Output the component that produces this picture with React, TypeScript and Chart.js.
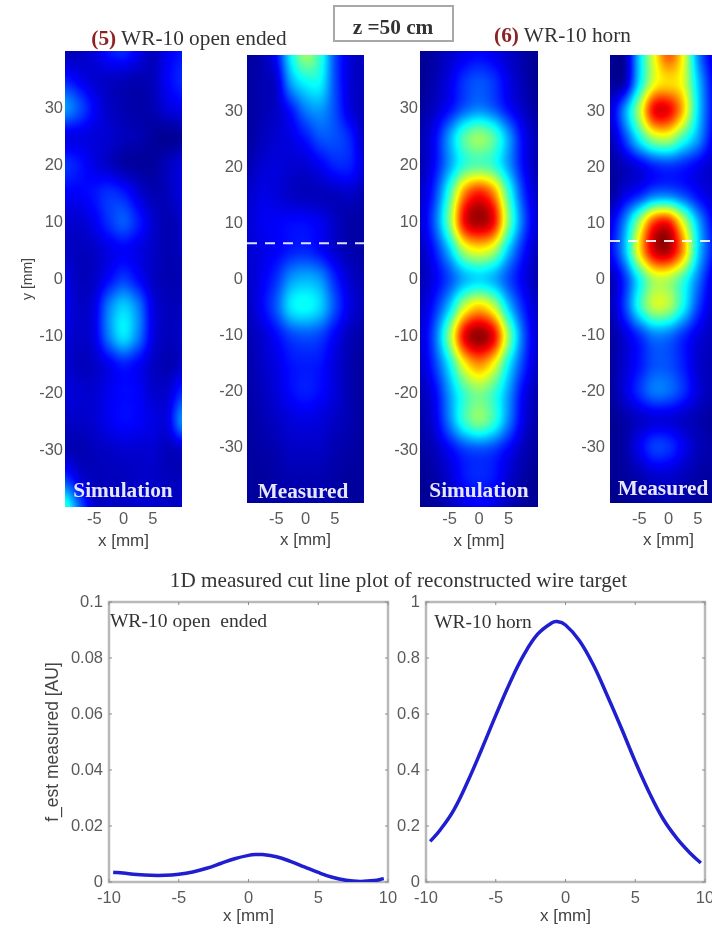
import React, { useEffect, useRef } from "react";
import { Chart, registerables } from "chart.js";
Chart.register(...registerables);

const gridX = [-10, -7.5, -5, -2.5, 0, 2.5, 5, 7.5, 10];
const gridY = [40, 35, 30, 25, 20, 15, 10, 5, 0, -5, -10, -15, -20, -25, -30, -35, -40];

const simOpen = [
  [.05,.06,.09,.14,.16,.11,.06,.11,.14],
  [.15,.11,.08,.07,.06,.05,.06,.12,.16],
  [.27,.20,.12,.07,.05,.04,.05,.09,.11],
  [.10,.10,.09,.08,.06,.05,.03,.02,.03],
  [.17,.14,.10,.07,.04,.03,.03,.06,.09],
  [.12,.12,.14,.17,.15,.09,.05,.06,.09],
  [.08,.08,.11,.17,.21,.15,.08,.05,.07],
  [.07,.06,.07,.10,.12,.10,.07,.05,.06],
  [.10,.06,.07,.13,.18,.13,.07,.05,.05],
  [.11,.07,.10,.25,.33,.25,.10,.06,.06],
  [.09,.07,.10,.25,.35,.25,.10,.06,.07],
  [.08,.06,.07,.11,.15,.12,.07,.05,.07],
  [.09,.08,.08,.11,.13,.12,.08,.08,.16],
  [.07,.07,.08,.11,.13,.12,.10,.10,.26],
  [.06,.05,.06,.07,.08,.08,.08,.06,.07],
  [.18,.09,.06,.06,.06,.07,.07,.06,.06],
  [.42,.22,.08,.07,.07,.08,.08,.07,.07],
];
const measOpen = [
  [.03,.05,.13,.37,.52,.42,.20,.09,.06],
  [.03,.05,.08,.28,.37,.37,.20,.09,.06],
  [.03,.05,.07,.14,.24,.27,.20,.10,.06],
  [.03,.06,.08,.10,.14,.20,.20,.16,.07],
  [.05,.08,.09,.08,.08,.11,.15,.15,.09],
  [.07,.10,.09,.07,.06,.06,.06,.07,.05],
  [.08,.11,.12,.13,.13,.11,.07,.04,.04],
  [.08,.10,.12,.15,.16,.13,.08,.05,.04],
  [.07,.11,.17,.27,.30,.27,.16,.08,.05],
  [.06,.12,.21,.35,.38,.33,.20,.10,.06],
  [.05,.08,.13,.19,.21,.19,.12,.06,.04],
  [.04,.07,.10,.14,.15,.14,.09,.05,.03],
  [.04,.06,.09,.13,.15,.13,.09,.05,.03],
  [.03,.05,.07,.09,.10,.09,.07,.05,.03],
  [.03,.04,.05,.07,.07,.07,.05,.04,.03],
  [.03,.03,.04,.05,.05,.05,.04,.03,.03],
  [.03,.03,.04,.04,.04,.04,.04,.03,.03],
];
const simHorn = [
  [.02,.04,.07,.10,.12,.10,.07,.04,.02],
  [.02,.05,.10,.17,.20,.17,.10,.05,.02],
  [.03,.07,.13,.21,.25,.21,.13,.07,.03],
  [.05,.12,.28,.45,.52,.45,.28,.12,.05],
  [.05,.13,.28,.42,.46,.42,.28,.13,.05],
  [.07,.18,.43,.74,.85,.74,.43,.18,.07],
  [.08,.22,.50,.87,.96,.87,.50,.22,.08],
  [.06,.15,.32,.55,.62,.55,.32,.15,.06],
  [.05,.11,.20,.30,.34,.30,.20,.11,.05],
  [.07,.16,.33,.58,.68,.58,.33,.16,.07],
  [.08,.22,.52,.88,.98,.88,.52,.22,.08],
  [.07,.18,.37,.62,.73,.62,.37,.18,.07],
  [.05,.12,.28,.43,.50,.43,.28,.12,.05],
  [.04,.10,.25,.42,.50,.42,.25,.10,.04],
  [.03,.06,.12,.18,.20,.18,.12,.06,.03],
  [.02,.04,.08,.14,.16,.14,.08,.04,.02],
  [.02,.03,.06,.10,.12,.10,.06,.03,.02],
];
const measHorn = [
  [.02,.04,.33,.60,.78,.62,.27,.10,.05],
  [.03,.06,.35,.60,.66,.60,.33,.13,.05],
  [.08,.27,.55,.87,.88,.68,.35,.14,.05],
  [.05,.18,.37,.53,.55,.42,.28,.12,.05],
  [.03,.06,.10,.15,.17,.15,.11,.07,.03],
  [.03,.10,.16,.24,.25,.20,.13,.08,.03],
  [.10,.26,.54,.82,.86,.60,.31,.13,.05],
  [.12,.30,.64,.91,.94,.72,.35,.15,.05],
  [.05,.17,.38,.55,.55,.43,.25,.10,.04],
  [.05,.18,.40,.56,.54,.38,.19,.08,.04],
  [.03,.09,.17,.25,.24,.17,.10,.06,.03],
  [.03,.08,.14,.20,.20,.15,.08,.05,.03],
  [.03,.09,.17,.24,.23,.17,.09,.05,.03],
  [.02,.04,.07,.09,.09,.07,.05,.03,.02],
  [.02,.04,.11,.18,.17,.11,.06,.04,.02],
  [.02,.03,.05,.08,.08,.06,.04,.03,.02],
  [.01,.02,.03,.04,.05,.04,.03,.02,.01],
];

const cutOpenX = [-9.7,-9,-8,-7,-6,-5,-4,-3,-2,-1,0,0.5,1,2,3,4,5,6,7,8,9,9.7];
const cutOpenY = [.0035,.0032,.0027,.0024,.0024,.0028,.0036,.0049,.0066,.0083,.0095,.0098,.0098,.009,.0074,.0054,.0034,.0017,.0006,.0002,.0005,.0012];
const cutHornX = [-9.7,-9,-8,-7,-6,-5,-4,-3,-2,-1,-0.6,0,1,2,3,4,5,6,7,8,9,9.7];
const cutHornY = [.145,.185,.258,.36,.475,.595,.71,.81,.885,.925,.93,.918,.862,.775,.665,.55,.43,.32,.225,.155,.1,.068];

const dashY1 = 6.4;
const dashY2 = 6.8;

const TICK_FONT = { family: "'Liberation Sans', Arial, sans-serif", size: 16.5 };
const TICK_COLOR = "#5a5a5a";

function jet(v: number): [number, number, number] {
  const c = Math.max(0, Math.min(1, v));
  const ramp = (d: number) => Math.max(0, Math.min(1, 1.5 - Math.abs(4 * c - d)));
  return [ramp(3) * 255, ramp(2) * 255, ramp(1) * 255];
}
function cr(a: number, b: number, c: number, d: number, t: number) {
  return 0.5 * (2 * b + (c - a) * t + (2 * a - 5 * b + 4 * c - d) * t * t + (3 * b - a - 3 * c + d) * t * t * t);
}
function sample(g: number[][], x: number, y: number) {
  const fx = Math.max(0, Math.min(gridX.length - 1.001, (x - gridX[0]) / (gridX[1] - gridX[0])));
  const fy = Math.max(0, Math.min(gridY.length - 1.001, (y - gridY[0]) / (gridY[1] - gridY[0])));
  const ix = Math.floor(fx), iy = Math.floor(fy);
  const tx = fx - ix, ty = fy - iy;
  const rowAt = (r: number) => {
    const row = g[Math.max(0, Math.min(g.length - 1, r))];
    const at = (i: number) => row[Math.max(0, Math.min(row.length - 1, i))];
    return cr(at(ix - 1), at(ix), at(ix + 1), at(ix + 2), tx);
  };
  return cr(rowAt(iy - 1), rowAt(iy), rowAt(iy + 1), rowAt(iy + 2), ty);
}

const heatmapPlugin = {
  id: "heatmap",
  beforeDatasetsDraw(chart: any) {
    const grid = chart.options.plugins.heatmap?.grid;
    if (!grid) return;
    const { left, top, right, bottom } = chart.chartArea;
    const x0 = Math.round(left), y0 = Math.round(top);
    const w = Math.round(right) - x0, h = Math.round(bottom) - y0;
    const img = chart.ctx.createImageData(w, h);
    for (let j = 0; j < h; j++) {
      const yv = chart.scales.y.getValueForPixel(y0 + j + 0.5);
      for (let i = 0; i < w; i++) {
        const xv = chart.scales.x.getValueForPixel(x0 + i + 0.5);
        const [r, g, b] = jet(sample(grid, xv, yv));
        const k = (j * w + i) * 4;
        img.data[k] = r; img.data[k + 1] = g; img.data[k + 2] = b; img.data[k + 3] = 255;
      }
    }
    chart.ctx.putImageData(img, x0, y0);
  },
};

const framePlugin = {
  id: "frame",
  beforeDatasetsDraw(chart: any) {
    if (!chart.options.plugins.frame?.on) return;
    const { ctx, chartArea: a, scales } = chart;
    ctx.save();
    ctx.strokeStyle = "#b9b9b9";
    ctx.lineWidth = 2.5;
    ctx.strokeRect(a.left, a.top, a.right - a.left, a.bottom - a.top);
    ctx.strokeStyle = "#8c8c8c";
    ctx.lineWidth = 1;
    ctx.beginPath();
    scales.x.ticks.forEach((t: any) => {
      const p = scales.x.getPixelForValue(t.value);
      ctx.moveTo(p, a.top); ctx.lineTo(p, a.top + 3);
      ctx.moveTo(p, a.bottom); ctx.lineTo(p, a.bottom - 3);
    });
    scales.y.ticks.forEach((t: any) => {
      const p = scales.y.getPixelForValue(t.value);
      ctx.moveTo(a.left, p); ctx.lineTo(a.left + 3, p);
      ctx.moveTo(a.right, p); ctx.lineTo(a.right - 3, p);
    });
    ctx.stroke();
    ctx.restore();
  },
};

type Rect = { l: number; t: number; r: number; b: number };
type Margins = { ml: number; mt: number; mr: number; mb: number };

function ChartBox({ rect, margins, config }: { rect: Rect; margins: Margins; config: any }) {
  const ref = useRef<HTMLCanvasElement>(null);
  useEffect(() => {
    const chart = new Chart(ref.current as HTMLCanvasElement, config);
    return () => chart.destroy();
  }, []);
  const { ml, mt, mr, mb } = margins;
  const w = rect.r - rect.l + ml + mr;
  const h = rect.b - rect.t + mt + mb;
  return (
    <canvas
      ref={ref}
      width={w}
      height={h}
      style={{ position: "absolute", left: rect.l - ml, top: rect.t - mt, width: w, height: h }}
    />
  );
}

function baseScales(margins: Margins, xOpt: any, yOpt: any) {
  return {
    x: {
      type: "linear",
      border: { display: false },
      grid: { display: false, drawTicks: false },
      afterFit: (s: any) => { s.height = margins.mb; },
      ...xOpt,
    },
    y: {
      type: "linear",
      border: { display: false },
      grid: { display: false, drawTicks: false },
      afterFit: (s: any) => { s.width = margins.ml; },
      ...yOpt,
    },
  };
}

const AXIS_FAMILY = "'Liberation Sans', Arial, sans-serif";

function heatConfig(grid: number[][], margins: Margins, xPad: number, yPad: number, dashY: number | null, showYTitle: boolean) {
  const cells: any[] = [];
  gridY.forEach((y, j) => gridX.forEach((x, i) => cells.push({ x, y, v: grid[j][i] })));
  const datasets: any[] = [
    { label: "cells", data: cells, pointRadius: 0, showLine: false },
  ];
  if (dashY !== null) {
    datasets.push({
      label: "cut",
      data: [{ x: -10, y: dashY }, { x: 10, y: dashY }],
      borderColor: "rgba(255,255,255,0.88)",
      borderWidth: 2,
      borderDash: [10, 8],
      pointRadius: 0,
      showLine: true,
    });
  }
  return {
    type: "scatter",
    data: { datasets },
    plugins: [heatmapPlugin],
    options: {
      responsive: false,
      animation: false,
      devicePixelRatio: 1,
      layout: { padding: { top: margins.mt, right: margins.mr, left: 0, bottom: 0 } },
      plugins: { legend: { display: false }, tooltip: { enabled: false }, heatmap: { grid } },
      scales: baseScales(
        margins,
        {
          min: -10, max: 10,
          ticks: {
            stepSize: 5, padding: xPad, maxRotation: 0, autoSkip: false, font: TICK_FONT, color: TICK_COLOR,
            callback: (v: number) => (Math.abs(v) === 10 ? "" : String(v)),
          },
          title: {
            display: true, text: "x [mm]", color: "#444", padding: { top: 0, bottom: 1 },
            font: { family: AXIS_FAMILY, size: 17 },
          },
        },
        {
          min: -40, max: 40,
          ticks: {
            stepSize: 10, padding: yPad, autoSkip: false, font: TICK_FONT, color: TICK_COLOR,
            callback: (v: number) => (Math.abs(v) === 40 ? "" : String(v)),
          },
          title: {
            display: showYTitle, text: "y [mm]", color: "#444", padding: { top: 0, bottom: 0 },
            font: { family: AXIS_FAMILY, size: 14 },
          },
        },
      ),
    },
  };
}

function lineConfig(xs: number[], ys: number[], yMax: number, yStep: number, margins: Margins, yTitle: string) {
  return {
    type: "line",
    data: {
      datasets: [{
        label: "cut",
        data: xs.map((x, i) => ({ x, y: ys[i] })),
        borderColor: "#1f1fd0",
        borderWidth: 3.5,
        pointRadius: 0,
        tension: 0.4,
      }],
    },
    plugins: [framePlugin],
    options: {
      responsive: false,
      animation: false,
      devicePixelRatio: 1,
      layout: { padding: { top: margins.mt, right: margins.mr, left: 0, bottom: 0 } },
      plugins: { legend: { display: false }, tooltip: { enabled: false }, frame: { on: true } },
      scales: baseScales(
        margins,
        {
          min: -10, max: 10,
          ticks: { stepSize: 5, padding: 7, maxRotation: 0, autoSkip: false, font: TICK_FONT, color: TICK_COLOR },
          title: {
            display: true, text: "x [mm]", color: "#444", padding: { top: 0, bottom: 1 },
            font: { family: AXIS_FAMILY, size: 17 },
          },
        },
        {
          min: 0, max: yMax,
          ticks: {
            stepSize: yStep, padding: 6, autoSkip: false, font: TICK_FONT, color: TICK_COLOR,
            callback: (v: number) => String(+v.toFixed(2)),
          },
          title: {
            display: !!yTitle, text: yTitle, color: "#444", padding: { top: 0, bottom: 0 },
            font: { family: AXIS_FAMILY, size: 17.5 },
          },
        },
      ),
    },
  };
}

const SERIF = "'Liberation Serif', 'Times New Roman', serif";

function Txt({ x, y, size, bold, color, spacing, children }: any) {
  return (
    <div style={{
      position: "absolute", left: x, top: y, transform: "translate(-50%,-50%)", whiteSpace: "pre",
      fontFamily: SERIF, fontSize: size, fontWeight: bold ? 700 : 400, color: color || "#333",
      letterSpacing: spacing || 0, lineHeight: 1,
    }}>{children}</div>
  );
}

const rectA: Rect = { l: 65, t: 51, r: 182, b: 507 };
const rectB: Rect = { l: 247, t: 55, r: 364, b: 503 };
const rectC: Rect = { l: 420, t: 51, r: 538, b: 507 };
const rectD: Rect = { l: 610, t: 55, r: 727, b: 503 };
const rectE: Rect = { l: 109, t: 602, r: 388, b: 882 };
const rectF: Rect = { l: 426, t: 602, r: 705, b: 882 };

const mA: Margins = { ml: 45, mt: 20, mr: 16, mb: 46 };
const mB: Margins = { ml: 40, mt: 20, mr: 16, mb: 49 };
const mE: Margins = { ml: 66, mt: 20, mr: 20, mb: 46 };
const mF: Margins = { ml: 36, mt: 20, mr: 20, mb: 46 };

const cfgA = heatConfig(simOpen, mA, 3, 2, null, true);
const cfgB = heatConfig(measOpen, mB, 7, 4, dashY1, false);
const cfgC = heatConfig(simHorn, mA, 3, 2, null, false);
const cfgD = heatConfig(measHorn, mB, 7, 5, dashY2, false);
const cfgE = lineConfig(cutOpenX, cutOpenY, 0.1, 0.02, mE, "f_est measured [AU]");
const cfgF = lineConfig(cutHornX, cutHornY, 1, 0.2, mF, "");

export default function App() {
  return (
    <div style={{ position: "fixed", left: 0, top: 0, width: 712, height: 928, overflow: "hidden", background: "#fff", filter: "blur(0.55px)" }}>
      <ChartBox rect={rectA} margins={mA} config={cfgA} />
      <ChartBox rect={rectB} margins={mB} config={cfgB} />
      <ChartBox rect={rectC} margins={mA} config={cfgC} />
      <ChartBox rect={rectD} margins={mB} config={cfgD} />
      <ChartBox rect={rectE} margins={mE} config={cfgE} />
      <ChartBox rect={rectF} margins={mF} config={cfgF} />

      <div style={{ position: "absolute", left: 333, top: 5, width: 121, height: 37, boxSizing: "border-box", border: "2px solid #a8a8a8" }} />
      <Txt x={393} y={28} size={21.3} bold>z =50 cm</Txt>
      <Txt x={189} y={39} size={21.3}><span style={{ color: "#8c2323", fontWeight: 700 }}>(5)</span> WR-10 open ended</Txt>
      <Txt x={562.5} y={36} size={21.3}><span style={{ color: "#8c2323", fontWeight: 700 }}>(6)</span> WR-10 horn</Txt>
      <Txt x={123} y={491} size={21.3} bold color="#e6e6ff">Simulation</Txt>
      <Txt x={303} y={492} size={21.3} bold color="#e6e6ff">Measured</Txt>
      <Txt x={479} y={491} size={21.3} bold color="#e6e6ff">Simulation</Txt>
      <Txt x={663} y={489} size={21.3} bold color="#e6e6ff">Measured</Txt>
      <Txt x={398.5} y={581} size={21.2}>1D measured cut line plot of reconstructed wire target</Txt>
      <Txt x={188.5} y={621} size={19.6}>WR-10 open  ended</Txt>
      <Txt x={483} y={622} size={19.4}>WR-10 horn</Txt>
    </div>
  );
}
